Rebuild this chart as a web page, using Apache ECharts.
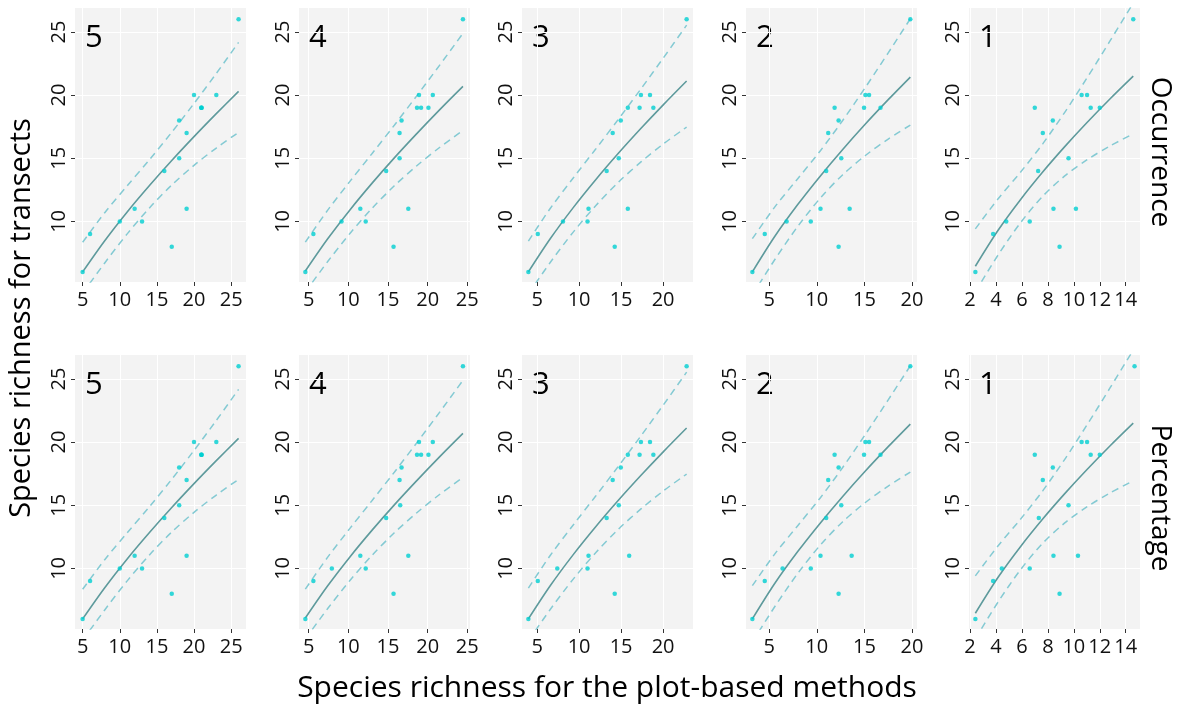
<!DOCTYPE html>
<html><head><meta charset="utf-8">
<script src="https://cdn.jsdelivr.net/npm/echarts@6/dist/echarts.min.js"></script>
<style>html,body{margin:0;padding:0;background:#fff}#chart{width:1188px;height:706px}</style>
</head><body><div id="chart"></div>
<script>
// ---------------- DATA ----------------
const panelLabels = ['5', '4', '3', '2', '1'];
const rowLabels = ['Occurrence', 'Percentage'];
const yTicks = [10, 15, 20, 25];
const xTicks_5 = [5, 10, 15, 20, 25];
const xTicks_4 = [5, 10, 15, 20, 25];
const xTicks_3 = [5, 10, 15, 20];
const xTicks_2 = [5, 10, 15, 20];
const xTicks_1 = [2, 4, 6, 8, 10, 12, 14];

// Species richness for transects (same sites in every panel)
const transectRichness = [6, 9, 10, 10, 11, 11, 14, 8, 15, 17, 18, 19, 19, 19, 20, 20, 26];

// Species richness for the plot-based methods (one array per panel)
const occ_5 = [5, 6, 10, 13, 12, 19, 16, 17, 18, 19, 18, 21, 21, 21, 20, 23, 26];
const occ_4 = [4.58, 5.59, 9.14, 12.19, 11.51, 17.56, 14.77, 15.7, 16.46, 16.46, 16.71, 18.66, 19.17, 20.1, 18.91, 20.65, 24.45];
const occ_3 = [3.96, 5.08, 8.08, 11.0, 11.12, 15.8, 13.28, 14.24, 14.72, 14.0, 14.96, 15.8, 17.2, 18.84, 17.36, 18.44, 22.8];
const occ_2 = [3.24, 4.54, 6.83, 9.37, 10.39, 13.45, 10.99, 12.29, 12.57, 11.2, 12.29, 11.87, 14.96, 16.69, 15.1, 15.49, 19.82];
const occ_1 = [2.41, 3.78, 4.79, 6.6, 8.43, 10.16, 7.25, 8.9, 9.59, 7.61, 8.38, 6.99, 11.3, 12.0, 10.6, 11.02, 14.58];

const pct_5 = [5, 6, 10, 13, 12, 19, 16, 17, 18, 19, 18, 21, 21, 21, 20, 23, 26];
const pct_4 = [4.58, 5.59, 7.92, 12.19, 11.51, 17.56, 14.77, 15.7, 16.54, 16.46, 16.71, 18.66, 19.17, 20.1, 18.91, 20.65, 24.45];
const pct_3 = [3.96, 5.08, 7.4, 11.0, 11.12, 15.96, 13.28, 14.24, 14.72, 14.0, 14.96, 15.8, 17.2, 18.84, 17.36, 18.44, 22.8];
const pct_2 = [3.24, 4.54, 6.41, 9.37, 10.39, 13.66, 10.99, 12.29, 12.57, 11.2, 12.29, 11.87, 14.96, 16.69, 15.1, 15.49, 19.82];
const pct_1 = [2.41, 3.78, 4.45, 6.6, 8.43, 10.32, 7.30, 8.9, 9.59, 7.61, 8.38, 6.99, 11.3, 12.0, 10.6, 11.02, 14.68];

// Fitted curve and confidence band
const curveX_5 = [5, 8, 11, 14, 17, 20, 23, 26];
const fit_5 = [6.0, 8.49, 10.75, 12.84, 14.82, 16.71, 18.53, 20.3];
const upper_5 = [8.35, 10.71, 12.82, 14.89, 17.06, 19.34, 21.72, 24.18];
const lower_5 = [4.31, 6.73, 9.01, 11.07, 12.88, 14.44, 15.81, 17.05];

const curveX_4 = [4.58, 7.4, 10.2, 13.0, 15.8, 18.6, 21.5, 24.45];
const fit_4 = [6.07, 8.62, 10.91, 13.03, 15.03, 16.93, 18.83, 20.69];
const upper_4 = [8.36, 10.89, 13.17, 15.38, 17.62, 19.92, 22.36, 24.89];
const lower_4 = [4.41, 6.82, 9.04, 11.04, 12.82, 14.39, 15.85, 17.20];

const curveX_3 = [3.96, 6.6, 9.3, 12.0, 14.7, 17.4, 20.1, 22.8];
const fit_3 = [6.0, 8.66, 11.09, 13.32, 15.41, 17.39, 19.29, 21.12];
const upper_3 = [8.44, 11.06, 13.44, 15.75, 18.11, 20.53, 23.01, 25.54];
const lower_3 = [4.27, 6.78, 9.15, 11.26, 13.12, 14.73, 16.17, 17.47];

const curveX_2 = [3.24, 5.6, 8.0, 10.4, 12.7, 15.1, 17.5, 19.82];
const fit_2 = [6.0, 8.82, 11.33, 13.62, 15.68, 17.71, 19.64, 21.43];
const upper_2 = [8.63, 11.15, 13.38, 15.62, 17.97, 20.61, 23.35, 26.05];
const lower_2 = [4.17, 6.98, 9.60, 11.87, 13.68, 15.22, 16.52, 17.63];

const curveX_1 = [2.41, 4.15, 5.9, 7.6, 9.3, 11.0, 12.8, 14.58];
const fit_1 = [6.45, 9.28, 11.74, 13.91, 15.92, 17.81, 19.71, 21.5];
const upper_1 = [9.41, 11.77, 13.91, 16.14, 18.64, 21.34, 24.31, 27.29];
const lower_1 = [4.42, 7.32, 9.91, 11.99, 13.60, 14.87, 15.98, 16.94];

// ---------------- LAYOUT / STYLE ----------------
const FONT = "'Open Sans', 'Noto Sans', sans-serif";
const gridLefts = [75, 299, 522, 746, 969];
const gridTops = [8, 355];
const gridW = 171, gridH = 274;
const yRange = [5.2, 26.9];
const xRanges = [[3.97, 27.0], [3.78, 25.34], [3.2, 23.56], [2.57, 20.52], [1.92, 15.1]];

const columns = [
  { ticks: xTicks_5, occ: occ_5, pct: pct_5, cx: curveX_5, fit: fit_5, up: upper_5, lo: lower_5 },
  { ticks: xTicks_4, occ: occ_4, pct: pct_4, cx: curveX_4, fit: fit_4, up: upper_4, lo: lower_4 },
  { ticks: xTicks_3, occ: occ_3, pct: pct_3, cx: curveX_3, fit: fit_3, up: upper_3, lo: lower_3 },
  { ticks: xTicks_2, occ: occ_2, pct: pct_2, cx: curveX_2, fit: fit_2, up: upper_2, lo: lower_2 },
  { ticks: xTicks_1, occ: occ_1, pct: pct_1, cx: curveX_1, fit: fit_1, up: upper_1, lo: lower_1 }
];

const grids = [], xAxes = [], yAxes = [], series = [], graphics = [];
const tickColor = '#333333';
const labelColor = '#111111';

for (let r = 0; r < 2; r++) {
  for (let c = 0; c < 5; c++) {
    const gi = r * 5 + c;
    const col = columns[c];
    grids.push({
      left: gridLefts[c], top: gridTops[r], width: gridW, height: gridH,
      show: true, backgroundColor: '#F3F3F3', borderWidth: 0, containLabel: false
    });
    xAxes.push({
      type: 'value', gridIndex: gi, min: xRanges[c][0], max: xRanges[c][1],
      axisLine: { show: false },
      axisTick: { show: true, length: 4, customValues: col.ticks, lineStyle: { color: tickColor, width: 1 } },
      axisLabel: { customValues: col.ticks, margin: 8, color: labelColor, fontSize: 20, fontFamily: FONT },
      splitLine: { show: true, lineStyle: { color: '#FFFFFF', width: 1 } }
    });
    yAxes.push({
      type: 'value', gridIndex: gi, min: yRange[0], max: yRange[1],
      axisLine: { show: false },
      axisTick: { show: true, length: 4, customValues: yTicks, lineStyle: { color: tickColor, width: 1 } },
      axisLabel: { customValues: yTicks, rotate: 90, margin: 6, color: labelColor, fontSize: 20, fontFamily: FONT },
      splitLine: { show: true, lineStyle: { color: '#FFFFFF', width: 1 } }
    });
    const xs = r === 0 ? col.occ : col.pct;
    const bandStyle = { color: '#84CAD3', width: 1.5, type: [7, 5] };
    series.push({
      type: 'line', xAxisIndex: gi, yAxisIndex: gi, symbol: 'none', smooth: 0.3,
      data: col.cx.map((x, i) => [x, col.up[i]]), lineStyle: bandStyle, z: 2, silent: true
    });
    series.push({
      type: 'line', xAxisIndex: gi, yAxisIndex: gi, symbol: 'none', smooth: 0.3,
      data: col.cx.map((x, i) => [x, col.lo[i]]), lineStyle: bandStyle, z: 2, silent: true
    });
    series.push({
      type: 'line', xAxisIndex: gi, yAxisIndex: gi, symbol: 'none', smooth: 0.3,
      data: col.cx.map((x, i) => [x, col.fit[i]]),
      lineStyle: { color: '#5E9A9C', width: 1.6 }, z: 3, silent: true
    });
    series.push({
      type: 'scatter', xAxisIndex: gi, yAxisIndex: gi, symbolSize: 4.5,
      data: xs.map((x, i) => [x, transectRichness[i]]),
      itemStyle: { color: '#00CED1' }, z: 4, silent: true
    });
    graphics.push({
      type: 'text', left: gridLefts[c] + 10, top: gridTops[r] + 15,
      style: { text: panelLabels[c], fill: '#000', font: '31px ' + FONT }
    });
  }
}

graphics.push({
  type: 'text', x: 1160, y: 152, rotation: -Math.PI / 2,
  style: { text: rowLabels[0], fill: '#000', font: '28px ' + FONT, align: 'center', verticalAlign: 'middle' }
});
graphics.push({
  type: 'text', x: 1160, y: 498, rotation: -Math.PI / 2,
  style: { text: rowLabels[1], fill: '#000', font: '28px ' + FONT, align: 'center', verticalAlign: 'middle' }
});
graphics.push({
  type: 'text', x: 22, y: 318, rotation: Math.PI / 2,
  style: { text: 'Species richness for transects', fill: '#000', font: '29px ' + FONT, align: 'center', verticalAlign: 'middle' }
});
graphics.push({
  type: 'text', x: 607, y: 688,
  style: { text: 'Species richness for the plot-based methods', fill: '#000', font: '30px ' + FONT, align: 'center', verticalAlign: 'middle' }
});

const chart = echarts.init(document.getElementById('chart'), null, { renderer: 'canvas' });
chart.setOption({
  animation: false,
  backgroundColor: '#FFFFFF',
  grid: grids, xAxis: xAxes, yAxis: yAxes, series: series, graphic: graphics
});
</script></body></html>
